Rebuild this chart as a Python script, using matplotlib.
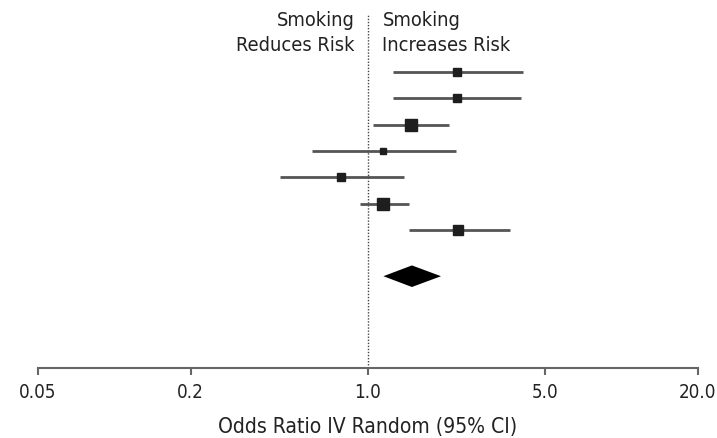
import numpy as np
import matplotlib
matplotlib.use('Agg')
import matplotlib.pyplot as plt

plt.rcParams['font.family'] = ['DejaVu Sans']
plt.rcParams['font.stretch'] = 'condensed'

# study estimates (odds ratio, 95% CI) and weights
odds_ratio = [2.25, 2.25, 1.48, 1.15, 0.78, 1.15, 2.27]
ci_low = [1.25, 1.25, 1.05, 0.60, 0.45, 0.93, 1.45]
ci_high = [4.10, 4.00, 2.08, 2.22, 1.39, 1.45, 3.62]
weight = [10.9, 10.9, 21.7, 7.4, 12.2, 21.8, 15.1]

# pooled random effects estimate
pooled = 1.49
pooled_low = 1.15
pooled_high = 1.94

tick_vals = [0.05, 0.2, 1.0, 5.0, 20.0]
tick_labels = ['0.05', '0.2', '1.0', '5.0', '20.0']

fig = plt.figure(figsize=(7.17, 4.39), dpi=100)
ax = fig.add_axes([38/717, 70/439, 660/717, 369/439])

n = len(odds_ratio)
ypos = np.arange(n)
y_pool = n + 0.76

line_col = '#555555'
box_col = '#1e1e1e'

for i in range(n):
    ax.plot([ci_low[i], ci_high[i]], [ypos[i], ypos[i]], color=line_col, lw=2, solid_capstyle='butt', zorder=2)
    ms = 12 * np.sqrt(weight[i] / max(weight)) * 0.72
    ax.plot(odds_ratio[i], ypos[i], marker='s', ms=ms, color=box_col, mec=box_col, zorder=3)

ax.fill([pooled_low, pooled, pooled_high, pooled],
        [y_pool, y_pool - 0.41, y_pool, y_pool + 0.41], color='black', lw=0, zorder=3)

ax.axvline(1.0, ymin=0, ymax=0.96, color='#444444', lw=1, ls=(0, (1, 1.2)), zorder=1)

ax.set_xscale('log')
ax.set_xlim(0.05, 20.0)
ax.set_ylim(11.25, -2.78)
ax.set_xticks(tick_vals)
ax.set_xticklabels(tick_labels)
ax.minorticks_off()
ax.set_yticks([])
for s in ['top', 'right', 'left']:
    ax.spines[s].set_visible(False)
ax.spines['bottom'].set_color('#666666')
ax.spines['bottom'].set_linewidth(1.5)
ax.tick_params(axis='x', length=5, width=1.5, color='#666666', labelsize=13.5, pad=5, labelcolor='#222222')
ax.set_xlabel('Odds Ratio IV Random (95% CI)', fontsize=15.1, color='#222222', labelpad=11)

ax.text(0.885, -2.35, 'Smoking\nReduces Risk', ha='right', va='top', fontsize=14.3,
        color='#222222', linespacing=1.4)
ax.text(1.14, -2.35, 'Smoking\nIncreases Risk', ha='left', va='top', fontsize=14.3,
        color='#222222', linespacing=1.4)

fig.savefig('out.png', dpi=100)
